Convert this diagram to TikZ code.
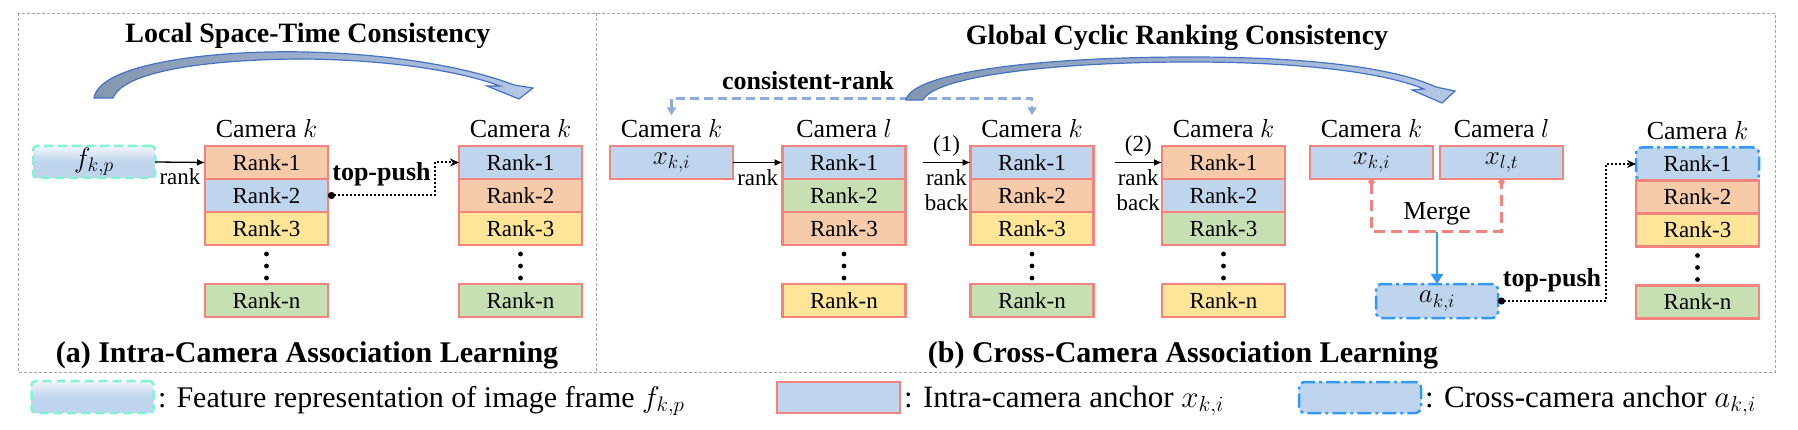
\RequirePackage{fix-cm}
\documentclass[tikz,border=0pt]{standalone}
\usepackage{fontspec}
\setmainfont{Liberation Serif}
\usetikzlibrary{arrows.meta,positioning}
\definecolor{RankRed}{HTML}{F4837D}
\definecolor{RankPeach}{HTML}{F5CBAA}
\definecolor{RankBlue}{HTML}{BFD5EE}
\definecolor{RankYellow}{HTML}{FFE597}
\definecolor{RankGreen}{HTML}{C6E0B4}
\definecolor{PanelGray}{HTML}{A6A6A6}
\definecolor{ArcBlue}{HTML}{4472C4}
\definecolor{ArcDark}{HTML}{8497B0}
\definecolor{ArcLight}{HTML}{B4C7E7}
\definecolor{ConsBlue}{HTML}{8FAADC}
\definecolor{AnchorBlue}{HTML}{3399F3}
\definecolor{FeatAqua}{HTML}{7FF5D2}
\definecolor{FeatTop}{HTML}{F2F5FA}

\begin{document}
\begin{tikzpicture}[
        x=1pt, y=-1pt,
        rank/.style={draw=RankRed, line width=2.5pt, minimum width=123pt, minimum height=33pt,
          inner sep=0pt, outer sep=0pt, font=\fontsize{23}{26}\selectfont},
        anchorbox/.style={rank, draw=AnchorBlue, fill=RankBlue, rounded corners=6pt,
          dash pattern=on 14pt off 4pt on 3pt off 4pt},
        featbox/.style={draw=FeatAqua, line width=2.5pt, rounded corners=4pt, dash pattern=on 9pt off 5pt,
          top color=FeatTop, bottom color=RankBlue, middle color=RankBlue,
          minimum width=122pt, minimum height=32pt, inner sep=0pt, outer sep=0pt},
        cam/.style={inner sep=0pt, font=\fontsize{26}{30}\selectfont},
        lbl/.style={inner sep=0pt, align=center, font=\fontsize{23}{25}\selectfont},
        bold/.style={inner sep=0pt, font=\fontsize{26}{30}\selectfont\bfseries},
        title/.style={inner sep=0pt, anchor=base, font=\fontsize{28}{32}\selectfont\bfseries},
        caption/.style={inner sep=0pt, anchor=base, font=\fontsize{30}{34}\selectfont\bfseries},
        legend/.style={inner sep=0pt, anchor=base west, font=\fontsize{31}{34}\selectfont},
        panel/.style={draw=PanelGray, line width=0.8pt, dash pattern=on 3pt off 2pt},
        arrow/.style={-{Latex[length=8pt,width=7pt]}, line width=1.3pt},
        push/.style={{Circle[length=7pt]}-{Stealth[length=9pt,width=8pt]}, line width=2pt, dash pattern=on 2pt off 2pt},
        cons/.style={{Triangle[length=8pt,width=9pt]}-{Triangle[length=8pt,width=9pt]}, draw=ConsBlue,
          line width=2.5pt, dash pattern=on 9pt off 5pt},
        merge/.style={{Circle[length=6pt]}-{Circle[length=6pt]}, draw=RankRed, line width=3pt, dash pattern=on 11pt off 6pt},
        down/.style={-{Triangle[length=10pt,width=12pt]}, draw=AnchorBlue, line width=2.5pt},
        band/.style={draw=ArcBlue, line width=1.2pt, left color=ArcDark, right color=ArcLight}
      ]
        \useasboundingbox (0,0) rectangle (1798,430);
        \draw[panel] (18,13) rectangle (1775,372);
        \draw[panel] (596,13) -- (596,372);

        % (a) intra-camera
        \node[title] (lsttitle) at (308,43) {Local Space-Time Consistency};
        \draw[band] (94,98) .. controls (100,62) and (220,50) .. (305,52) .. controls (395,54) and (470,68) .. (514,85)
          -- (533,88) -- (519,99) -- (487,86) -- (500,86)
          .. controls (460,71) and (390,60) .. (305,59) .. controls (225,59) and (125,68) .. (113,98) -- cycle;

        \node[featbox] (fkp) at (94,162) {\fontsize{28}{30}\selectfont$f_{k,p}$};
        \node[rank, fill=RankPeach] (a1r1) at (266.5,162.5) {Rank-1};
        \node[rank, fill=RankBlue, below=0pt of a1r1] (a1r2) {Rank-2};
        \node[rank, fill=RankYellow, below=0pt of a1r2] (a1r3) {Rank-3};
        \node[rank, fill=RankGreen, below=39pt of a1r3] (a1rn) {Rank-n};
        \node[cam, above=8pt of a1r1] (a1cam) {Camera $k$};

        \node[rank, fill=RankBlue] (a2r1) at (520.5,162.5) {Rank-1};
        \node[rank, fill=RankPeach, below=0pt of a2r1] (a2r2) {Rank-2};
        \node[rank, fill=RankYellow, below=0pt of a2r2] (a2r3) {Rank-3};
        \node[rank, fill=RankGreen, below=39pt of a2r3] (a2rn) {Rank-n};
        \node[cam, above=8pt of a2r1] (a2cam) {Camera $k$};

        \draw[arrow] (fkp.east) -- node[lbl, below=6pt] (a1lab) {rank} (a1r1.west);
        \draw[push] (a1r2.east) -| node[bold, pos=0.25, above=8pt] (a1push) {top-push} ([xshift=-24pt]a2r1.west) -- (a2r1.west);

        \node[caption] (capa) at (307,362) {(a) Intra-Camera Association Learning};

        % (b) cross-camera
        \node[title] (gcrtitle) at (1177,45) {Global Cyclic Ranking Consistency};

        \node[rank, fill=RankBlue, font=\fontsize{27}{30}\selectfont] (xki) at (671.5,162.5) {$x_{k,i}$};
        \node[cam, above=8pt of xki] (xkicam) {Camera $k$};

        \node[rank, fill=RankBlue] (blr1) at (844,162.5) {Rank-1};
        \node[rank, fill=RankGreen, below=0pt of blr1] (blr2) {Rank-2};
        \node[rank, fill=RankPeach, below=0pt of blr2] (blr3) {Rank-3};
        \node[rank, fill=RankYellow, below=39pt of blr3] (blrn) {Rank-n};
        \node[cam, above=8pt of blr1] (blcam) {Camera $l$};

        \node[rank, fill=RankBlue] (bk1r1) at (1032,162.5) {Rank-1};
        \node[rank, fill=RankPeach, below=0pt of bk1r1] (bk1r2) {Rank-2};
        \node[rank, fill=RankYellow, below=0pt of bk1r2] (bk1r3) {Rank-3};
        \node[rank, fill=RankGreen, below=39pt of bk1r3] (bk1rn) {Rank-n};
        \node[cam, above=8pt of bk1r1] (bk1cam) {Camera $k$};

        \node[rank, fill=RankPeach] (bk2r1) at (1223.5,162.5) {Rank-1};
        \node[rank, fill=RankBlue, below=0pt of bk2r1] (bk2r2) {Rank-2};
        \node[rank, fill=RankGreen, below=0pt of bk2r2] (bk2r3) {Rank-3};
        \node[rank, fill=RankYellow, below=39pt of bk2r3] (bk2rn) {Rank-n};
        \node[cam, above=8pt of bk2r1] (bk2cam) {Camera $k$};

        \draw[arrow] (xki.east) -- node[lbl, below=6pt] (b1lab) {rank} (blr1.west);
        \coordinate (back1) at ([xshift=17pt]blr1.east);
        \draw[arrow] (back1) -- node[lbl, above=5pt] (b2num) {(1)} node[lbl, below=6pt] (b2lab) {rank\\back} (bk1r1.west);
        \coordinate (back2) at ([xshift=21pt]bk1r1.east);
        \draw[arrow] (back2) -- node[lbl, above=5pt] (b3num) {(2)} node[lbl, below=6pt] (b3lab) {rank\\back} (bk2r1.west);

        \draw[cons] ([yshift=4pt]xkicam.north) -- ++(0,-17) -| ([yshift=4pt]bk1cam.north);
        \node[bold, anchor=base] (consl) at (808,90) {consistent-rank};
        \draw[band] (906,100) .. controls (912,72) and (1040,57) .. (1190,57) .. controls (1310,57) and (1395,68) .. (1436,87)
          -- (1455,91) -- (1442,103) -- (1412,90) -- (1424,89)
          .. controls (1385,73) and (1305,62) .. (1190,62) .. controls (1055,62) and (935,76) .. (923,100) -- cycle;

        \node[rank, fill=RankBlue, font=\fontsize{27}{30}\selectfont] (xki2) at (1371.5,162.5) {$x_{k,i}$};
        \node[cam, above=8pt of xki2] (xki2cam) {Camera $k$};
        \node[rank, fill=RankBlue, font=\fontsize{27}{30}\selectfont] (xlt) at (1501.5,162.5) {$x_{l,t}$};
        \node[cam, above=8pt of xlt] (xltcam) {Camera $l$};
        \node[cam, anchor=base] (mergel) at (1437,220) {Merge};
        \coordinate (mbot) at (1437,232);
        \node[anchorbox, minimum width=122pt, minimum height=34pt, font=\fontsize{27}{30}\selectfont] (aki) at (1437,301) {$a_{k,i}$};
        \draw[merge] (xki2.south) |- (mbot) -| (xlt.south);
        \draw[down] (mbot) -- (aki.north);

        \node[anchorbox] (rcr1) at (1697.5,164) {Rank-1};
        \node[rank, fill=RankPeach, below=0pt of rcr1] (rcr2) {Rank-2};
        \node[rank, fill=RankYellow, below=0pt of rcr2] (rcr3) {Rank-3};
        \node[rank, fill=RankGreen, below=39pt of rcr3] (rcrn) {Rank-n};
        \node[cam, above=8pt of rcr1] (rccam) {Camera $k$};
        \draw[push] (aki.east) -| node[bold, pos=0.25, above=8pt] (bpush) {top-push} ([xshift=-30pt]rcr1.west) -- (rcr1.west);

        \foreach \col in {a1,a2,bl,bk1,bk2,rc}
          \fill (\col r3.south) ++(0,9) circle (2.4) ++(0,12) circle (2.4) ++(0,12) circle (2.4);

        \node[caption] (capb) at (1183,362) {(b) Cross-Camera Association Learning};

        % legend
        \node[featbox] (legf) at (92.5,397) {};
        \node[legend, font=\fontsize{30}{34}\selectfont] (legft) at (158,407) {: Feature representation of image frame $f_{k,p}$};
        \node[rank, fill=RankBlue, minimum height=31pt] (legx) at (838.5,397.5) {};
        \node[legend] (legxt) at (904,407) {: Intra-camera anchor $x_{k,i}$};
        \node[anchorbox, minimum width=122pt, minimum height=31pt] (lega) at (1360,397.5) {};
        \node[legend] (legat) at (1425,407) {: Cross-camera anchor $a_{k,i}$};
      \end{tikzpicture}
\end{document}
